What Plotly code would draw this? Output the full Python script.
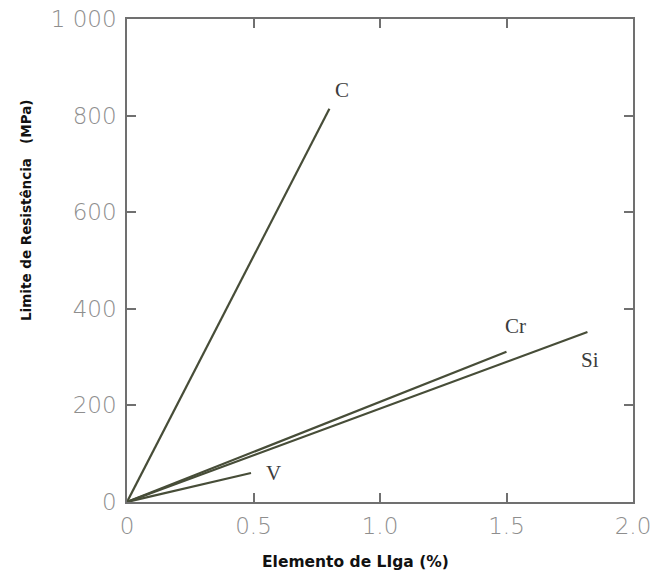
import plotly.graph_objects as go

elements = ["C", "Cr", "Si", "V"]
end_pct = [0.80, 1.50, 1.82, 0.49]
end_mpa = [814, 311, 352, 60]
label_pos = [(0.85, 852), (1.535, 364), (1.83, 295), (0.58, 60)]

x_ticks = [0, 0.5, 1.0, 1.5, 2.0]
x_ticktext = ["0", "0.5", "1.0", "1.5", "2.0"]
y_ticks = [0, 200, 400, 600, 800, 1000]
y_ticktext = ["0", "200", "400", "600", "800", "1 000"]

line_color = "#474d38"
axis_color = "#707070"
tick_font = dict(family="DejaVu Sans", size=23, color="#8e8e8e", weight=200)

fig = go.Figure()
for name, xe, ye in zip(elements, end_pct, end_mpa):
    fig.add_trace(go.Scatter(x=[0, xe], y=[0, ye], mode="lines",
                             line=dict(color=line_color, width=2.2),
                             name=name, showlegend=False, hoverinfo="skip"))

for name, (lx, ly) in zip(elements, label_pos):
    fig.add_annotation(x=lx, y=ly, text=name, showarrow=False,
                       font=dict(family="Liberation Serif, Times New Roman", size=21, color="#3c3c3c"))

fig.add_annotation(xref="paper", yref="paper", x=(355 - 127) / 506, y=-(562 - 502) / 483,
                   xanchor="center", yanchor="middle",
                   text="Elemento de LIga (%)", showarrow=False,
                   font=dict(family="DejaVu Sans", size=15.5, color="#111111", weight="bold"))
fig.add_annotation(xref="paper", yref="paper", x=-(127 - 26) / 506, y=(502 - 211) / 483,
                   xanchor="center", yanchor="middle",
                   text="Limite de Resistência   (MPa)", showarrow=False, textangle=-90,
                   font=dict(family="DejaVu Sans", size=13.5, color="#111111", weight="bold"))

fig.update_xaxes(range=[0, 2.0], tickvals=x_ticks, ticktext=x_ticktext, automargin=False,
                 ticks="inside", ticklen=9, tickcolor=axis_color, tickwidth=1.5,
                 showline=True, linecolor=axis_color, linewidth=1.5, mirror="ticks",
                 showgrid=False, zeroline=False, tickfont=tick_font, ticklabelstandoff=3)
fig.update_yaxes(range=[0, 1000], tickvals=y_ticks, ticktext=y_ticktext, automargin=False,
                 ticks="inside", ticklen=9, tickcolor=axis_color, tickwidth=1.5,
                 showline=True, linecolor=axis_color, linewidth=1.5, mirror="ticks",
                 showgrid=False, zeroline=False, tickfont=tick_font, ticklabelstandoff=4)

fig.update_layout(width=656, height=573, plot_bgcolor="white", paper_bgcolor="white",
                  margin=dict(l=127, r=23, t=19, b=71, autoexpand=False), showlegend=False)

fig.write_html("out.html")
